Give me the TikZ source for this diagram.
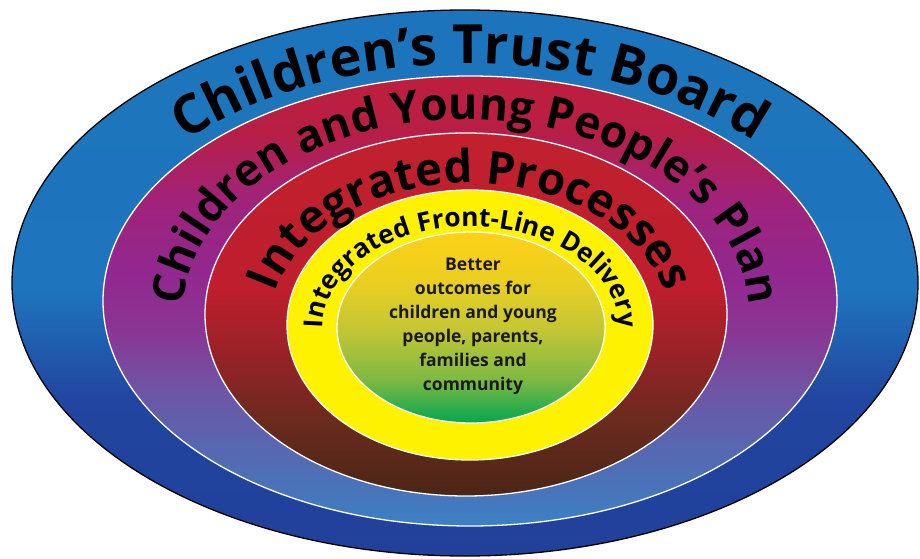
\documentclass[tikz,border=0pt]{standalone}
\usepackage{fontspec}
\setmainfont{Open Sans}
\usetikzlibrary{decorations.text}
\definecolor{bA}{HTML}{1C75BC}
\definecolor{bB}{HTML}{1E74BD}
\definecolor{bC}{HTML}{1F63B2}
\definecolor{bD}{HTML}{2145A0}
\definecolor{bE}{HTML}{21409A}
\definecolor{pA}{HTML}{BE1E3C}
\definecolor{pB}{HTML}{B81E45}
\definecolor{pC}{HTML}{A0237A}
\definecolor{pD}{HTML}{92278F}
\definecolor{pE}{HTML}{8A3594}
\definecolor{pF}{HTML}{6E55A5}
\definecolor{pG}{HTML}{4F6EB5}
\definecolor{pH}{HTML}{3C80C3}
\definecolor{rA}{HTML}{C1202E}
\definecolor{rB}{HTML}{BE1E2D}
\definecolor{rC}{HTML}{9A2227}
\definecolor{rD}{HTML}{6B2A1E}
\definecolor{rE}{HTML}{4A2616}
\definecolor{yel}{HTML}{FFF200}
\definecolor{gA}{HTML}{FDD116}
\definecolor{gB}{HTML}{EBCF20}
\definecolor{gC}{HTML}{C3C634}
\definecolor{gD}{HTML}{7DB944}
\definecolor{gE}{HTML}{04A64F}
\definecolor{txt}{HTML}{1A1A1A}
\pgfdeclareverticalshading{outershade}{100bp}{color(0bp)=(bE); color(25bp)=(bE); color(39.3bp)=(bD); color(45.7bp)=(bC); color(49.4bp)=(bB); color(75bp)=(bA); color(100bp)=(bA)}
\pgfdeclareverticalshading{purpleshade}{100bp}{color(0bp)=(pH); color(25bp)=(pH); color(31.2bp)=(pG); color(40.1bp)=(pF); color(46.8bp)=(pE); color(53.4bp)=(pD); color(61.2bp)=(pC); color(69bp)=(pB); color(75bp)=(pA); color(100bp)=(pA)}
\pgfdeclareverticalshading{redshade}{100bp}{color(0bp)=(rE); color(25bp)=(rE); color(35.5bp)=(rD); color(45.1bp)=(rC); color(53.4bp)=(rB); color(75bp)=(rA); color(100bp)=(rA)}
\pgfdeclareverticalshading{innershade}{100bp}{color(0bp)=(gE); color(25bp)=(gE); color(36.3bp)=(gD); color(49.3bp)=(gC); color(62.4bp)=(gB); color(75bp)=(gA); color(100bp)=(gA)}
\newlength\tw
\tikzset{
  ringline/.style={draw=white, line width=1.3pt},
  ringtext/.style={decorate, decoration={text along path, text align=center, text color=black}}
}
\begin{document}
\settowidth\tw{\fontsize{10pt}{10pt}\selectfont\bfseries Children’s Trust Board}%
\pgfmathsetmacro\fsA{10*591/\tw}%
\settowidth\tw{\fontsize{10pt}{10pt}\selectfont\bfseries Children and Young People’s Plan}%
\pgfmathsetmacro\fsB{10*735/\tw}%
\settowidth\tw{\fontsize{10pt}{10pt}\selectfont\bfseries Integrated Processes}%
\pgfmathsetmacro\fsC{10*474/\tw}%
\settowidth\tw{\fontsize{10pt}{10pt}\selectfont\bfseries Integrated Front-Line Delivery}%
\pgfmathsetmacro\fsD{10*395/\tw}%
\begin{tikzpicture}[x=1pt,y=1pt]
\useasboundingbox (0,0) rectangle (920,558);
\fill[white] (0,0) rectangle (920,558);
% rings
\shade[shading=outershade, draw=black, line width=1.3pt] (465,275) ellipse[x radius=453, y radius=273];
\shade[shading=purpleshade, ringline] (470,257) ellipse[x radius=367, y radius=225];
\shade[shading=redshade, ringline] (466,243.5) ellipse[x radius=261, y radius=181.5];
\fill[yel, ringline] (470,233) ellipse[x radius=183, y radius=135];
\shade[shading=innershade, ringline] (471,230.5) ellipse[x radius=134, y radius=95.5];
% curved labels
\path[ringtext, decoration={text={|\fontsize{\fsA pt}{\fsA pt}\selectfont\bfseries|Children’s Trust Board}}, shift={(470,257)}]
  (200:385 and 237) arc[start angle=200, end angle=-20, x radius=385, y radius=237];
\path[ringtext, decoration={text={|\fontsize{\fsB pt}{\fsB pt}\selectfont\bfseries|Children and Young People’s Plan}}, shift={(466,243.5)}]
  (200:283 and 195) arc[start angle=200, end angle=-20, x radius=283, y radius=195];
\path[ringtext, decoration={text={|\fontsize{\fsC pt}{\fsC pt}\selectfont\bfseries|Integrated Processes}}, shift={(470,233)}]
  (200:200 and 142) arc[start angle=200, end angle=-20, x radius=200, y radius=142];
\path[ringtext, decoration={text={|\fontsize{\fsD pt}{\fsD pt}\selectfont\bfseries|Integrated Front-Line Delivery}}, shift={(471,230.5)}]
  (200:148 and 101) arc[start angle=200, end angle=-20, x radius=148, y radius=101];
% centre text
\node[name=outcomes, align=center, text=txt, font=\bfseries\fontsize{17.5}{24}\selectfont] at (473,232)
  {Better\\outcomes for\\children and young\\people, parents,\\families and\\community};
\end{tikzpicture}
\end{document}
